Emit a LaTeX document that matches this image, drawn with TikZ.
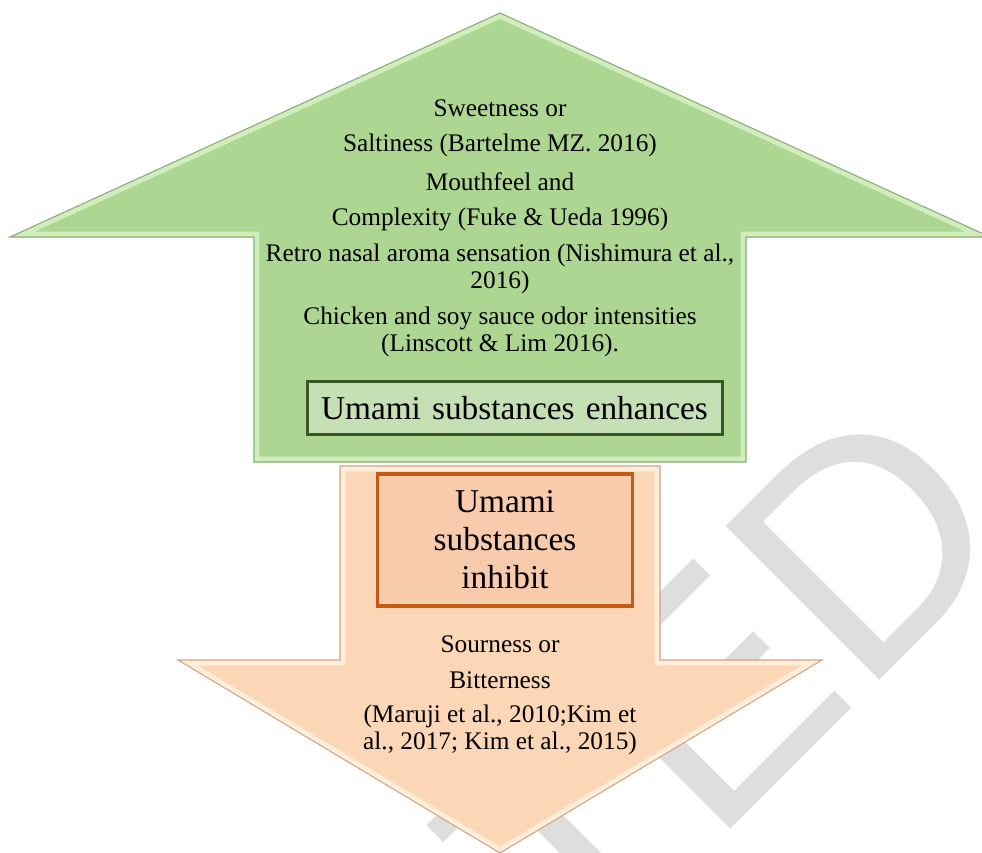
\documentclass[tikz,border=0pt]{standalone}
\usepackage{fontspec}
\setmainfont{Liberation Serif}
\newfontfamily\stampfont{Liberation Sans}

\definecolor{upfill}{RGB}{173,214,146}
\definecolor{uplite}{RGB}{208,238,188}
\definecolor{upedge}{RGB}{140,172,118}
\definecolor{upboxfill}{RGB}{197,224,180}
\definecolor{upline}{RGB}{56,87,35}
\definecolor{downfill}{RGB}{251,214,183}
\definecolor{downlite}{RGB}{255,238,218}
\definecolor{downedge}{RGB}{208,164,134}
\definecolor{downboxfill}{RGB}{247,203,172}
\definecolor{downline}{RGB}{197,90,17}
\definecolor{stampgray}{RGB}{222,222,222}

\newcommand{\uparrowpath}{(254,462) -- (254,237) -- (10,237) -- (500,13) -- (990,237) -- (746,237) -- (746,462) -- cycle}
\newcommand{\downarrowpath}{(340,466) -- (660,466) -- (660,660) -- (822,660) -- (500,853) -- (178,660) -- (340,660) -- cycle}

\begin{document}
\begin{tikzpicture}[x=0.75pt, y=-0.75pt,
    txt/.style = {align=center, inner sep=0pt, font=\fontsize{19}{20.5}\selectfont},
    enhbox/.style = {draw=upline, fill=upboxfill, line width=2.6pt, inner ysep=0pt, inner xsep=10pt,
        text width=291pt, align=left, minimum height=40pt, font=\fontsize{25}{29}\selectfont},
    inhbox/.style = {draw=downline, fill=downboxfill, line width=2.6pt, inner sep=0pt, align=center,
        minimum width=191pt, minimum height=99pt, font=\fontsize{25}{28.5}\selectfont},
    stamp/.style = {text=stampgray, inner sep=0pt, font=\stampfont\fontsize{237}{237}\selectfont}]

    \useasboundingbox (0,0) rectangle (982,853);
    \clip (0,0) rectangle (982,853);

    % watermark behind the arrows
    \node[stamp, rotate=45, anchor=base east] (stamp) at (1023,537) {ACCEPTED};

    % up arrow
    \fill[upfill] \uparrowpath;
    \begin{scope}
        \clip \uparrowpath;
        \draw[uplite, line width=8pt] \uparrowpath;
    \end{scope}
    \draw[upedge, line width=0.8pt] \uparrowpath;

    % down arrow
    \fill[downfill] \downarrowpath;
    \begin{scope}
        \clip \downarrowpath;
        \draw[downlite, line width=8pt] \downarrowpath;
    \end{scope}
    \draw[downedge, line width=0.8pt] \downarrowpath;

    \node[txt] (sweet) at (500,108) {Sweetness or};
    \node[txt] (salt) at (500,145) {Saltiness (Bartelme MZ. 2016)};
    \node[txt] (mouth) at (500,182) {Mouthfeel and};
    \node[txt] (complex) at (500,219) {Complexity (Fuke \& Ueda 1996)};
    \node[txt] (retro) at (500,269) {Retro nasal aroma sensation (Nishimura et al.,\\ 2016)};
    \node[txt] (chicken) at (500,332) {Chicken and soy sauce odor intensities\\ (Linscott \& Lim 2016).};

    \node[enhbox] (enhance) at (515,408) {Umami substances enhances};
    \node[inhbox] (inhibit) at (505,540) {Umami\\ substances\\ inhibit};

    \node[txt] (sour) at (500,644) {Sourness or};
    \node[txt] (bitter) at (500,680) {Bitterness};
    \node[txt] (refs) at (500,730) {(Maruji et al., 2010;Kim et\\ al., 2017; Kim et al., 2015)};

\end{tikzpicture}
\end{document}
